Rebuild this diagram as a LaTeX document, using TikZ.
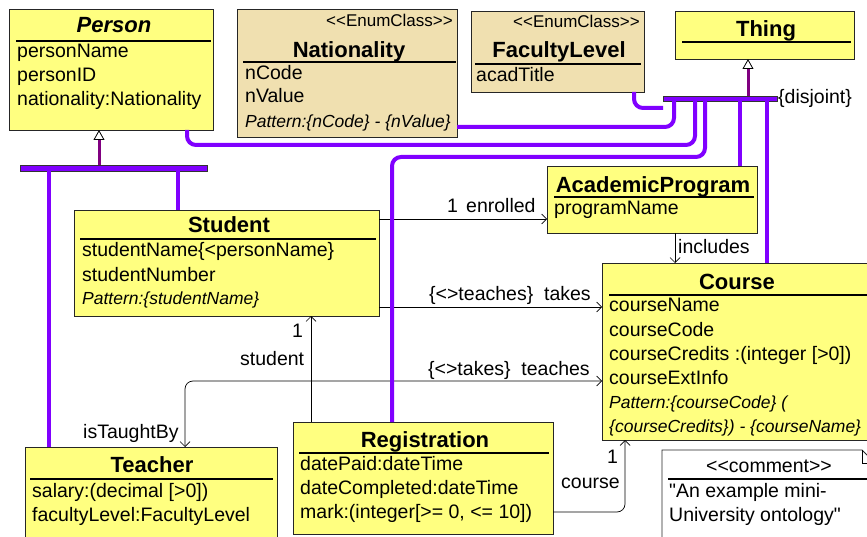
\documentclass[tikz,border=0pt]{standalone}
\usepackage{fontspec}
\setmainfont{Liberation Sans}[Ligatures=TeXOff]
\usetikzlibrary{arrows.meta}
\definecolor{classyellow}{RGB}{255,255,128}
\definecolor{enumtan}{RGB}{240,224,176}
\definecolor{genviolet}{RGB}{128,0,255}
\definecolor{genplum}{RGB}{128,0,128}
\begin{document}
\begin{tikzpicture}
[x=1pt,y=-1pt,
 classbox/.style={draw=black!85,line width=0.8pt,fill=classyellow,anchor=north west,inner sep=0pt,outer sep=0pt},
 enumbox/.style={classbox,fill=enumtan},
 clstitle/.style={font=\fontsize{22}{24}\selectfont\bfseries,anchor=base,inner sep=0pt},
 clsattr/.style={font=\fontsize{19.5}{24}\selectfont,anchor=base west,inner sep=0pt},
 clspattern/.style={font=\fontsize{17.5}{24}\selectfont\itshape,anchor=base west,inner sep=0pt},
 stereotype/.style={font=\fontsize{17}{18}\selectfont,anchor=base east,inner sep=0pt},
 rolelabel/.style={clsattr},
 clssep/.style={line width=1.1pt},
 assoc/.style={line width=0.7pt,rounded corners=8pt},
 navarrow/.style={-{Straight Barb[length=5pt,width=10pt]}},
 genline/.style={genviolet,line width=4pt,rounded corners=9pt},
 genbar/.style={fill=genviolet,draw=black!80,line width=0.8pt,inner sep=0pt,outer sep=0pt,anchor=north west},
 isa/.style={genplum,line width=3pt,-{Triangle[length=10pt,width=11pt,color=black,fill=white,line width=0.8pt]}}]

  \useasboundingbox (0,0) rectangle (867,537);

  \node[classbox,minimum width=204pt,minimum height=121pt] (person) at (9,9) {};
  \node[enumbox,minimum width=220pt,minimum height=128pt] (nationality) at (237,9) {};
  \node[enumbox,minimum width=173pt,minimum height=81pt] (faculty) at (471,11) {};
  \node[classbox,minimum width=179pt,minimum height=48pt] (thing) at (675,11) {};
  \node[classbox,minimum width=305pt,minimum height=106pt] (student) at (74,210) {};
  \node[classbox,minimum width=210pt,minimum height=67pt] (program) at (547,166) {};
  \node[classbox,minimum width=268pt,minimum height=177pt] (course) at (602,263) {};
  \node[classbox,minimum width=252pt,minimum height=98pt] (teacher) at (25,447) {};
  \node[classbox,minimum width=260pt,minimum height=112pt] (registration) at (293,422) {};

  \draw[fill=white,draw=black!85,line width=0.8pt] (662,450) -- (862,450) -- (875,463) -- (875,545) -- (662,545) -- cycle;
  \draw[line width=0.8pt] (862,450) -- (862,463) -- (875,463);

  \foreach \xa/\xb/\y in {16/211/41, 243/456/62, 475/641/64, 682/851/42, 80/376/239,
                          554/754/197, 609/867/295, 30/273/479, 299/549/453, 668/867/479}
  {
    \draw[clssep] (\xa,\y) -- (\xb,\y);
  }

  \node[clstitle,font=\fontsize{22}{24}\selectfont\bfseries\itshape] (persontitle) at (114,33) {Person};
  \node[stereotype] (nationalitystereo) at (453,27) {<<EnumClass>>};
  \node[clstitle] (nationalitytitle) at (349,58) {Nationality};
  \node[stereotype] (facultystereo) at (640,28) {<<EnumClass>>};
  \node[clstitle] (facultytitle) at (559,58) {FacultyLevel};
  \node[clstitle] (thingtitle) at (766,37) {Thing};
  \node[clstitle] (studenttitle) at (229,233) {Student};
  \node[clstitle] (programtitle) at (653,193) {AcademicProgram};
  \node[clstitle] (coursetitle) at (737,289) {Course};
  \node[clstitle] (teachertitle) at (152,472) {Teacher};
  \node[clstitle] (registrationtitle) at (425,447) {Registration};
  \node[clsattr,anchor=base] (commentstereo) at (769,472) {<<comment>>};

  \foreach \txt [count=\i] in {personName,personID,nationality:Nationality}
    \node[clsattr] (personattr\i) at (17,34+24*\i) {\txt};

  \foreach \txt [count=\i] in {nCode,nValue}
    \node[clsattr] (nationalityattr\i) at (245,57+23*\i) {\txt};
  \node[clspattern] (nationalitypattern) at (245,128) {Pattern:\{nCode\} - \{nValue\}};

  \node[clsattr] (facultyattr1) at (476,82) {acadTitle};

  \foreach \txt [count=\i] in {studentName\{<personName\},studentNumber}
    \node[clsattr] (studentattr\i) at (82,233+24*\i) {\txt};
  \node[clspattern] (studentpattern) at (82,304) {Pattern:\{studentName\}};

  \node[clsattr] (programattr1) at (554,215) {programName};

  \foreach \txt [count=\i] in {courseName,courseCode,courseCredits :(integer [>0]),courseExtInfo}
    \node[clsattr] (courseattr\i) at (609,288+24*\i) {\txt};
  \node[clspattern] (coursepattern1) at (609,408) {Pattern:\{courseCode\} (};
  \node[clspattern] (coursepattern2) at (609,432) {\{courseCredits\}) - \{courseName\}};

  \foreach \txt [count=\i] in {salary:(decimal [>0]),facultyLevel:FacultyLevel}
    \node[clsattr] (teacherattr\i) at (32,473+24*\i) {\txt};

  \foreach \txt [count=\i] in {datePaid:dateTime,dateCompleted:dateTime,{mark:(integer[>= 0, <= 10])}}
    \node[clsattr] (registrationattr\i) at (300,446+24*\i) {\txt};

  \foreach \txt [count=\i] in {"An example mini-,University ontology"}
    \node[clsattr] (commentline\i) at (669,473+24*\i) {\txt};

  \draw[assoc,navarrow] ([yshift=-9pt]student.north east) -- ([yshift=-53pt]program.north west);
  \draw[assoc,navarrow] ([xshift=128pt]program.south west) -- ([xshift=73pt]course.north west);
  \draw[assoc,navarrow] ([yshift=9pt]student.south east) -- ([yshift=-44pt]course.north west);
  \draw[assoc,{Straight Barb[length=5pt,width=10pt]}-{Straight Barb[length=5pt,width=10pt]}]
    ([yshift=-118pt]course.north west) -| ([xshift=160pt]teacher.north west);
  \draw[assoc,navarrow] ([xshift=18pt]registration.north west) -- ([xshift=237pt]student.south west);
  \draw[assoc,navarrow] ([yshift=22pt]registration.south east) -| ([xshift=23pt]course.south west);

  \node[rolelabel] (enrolledmult) at (447,213) {1};
  \node[rolelabel] (enrolled) at (466,213) {enrolled};
  \node[rolelabel] (includes) at (678,254) {includes};
  \node[rolelabel] (takes) at (429,300) {\{<>teaches\}\ \ takes};
  \node[rolelabel] (teaches) at (428,375) {\{<>takes\}\ \ teaches};
  \node[rolelabel] (taughtby) at (83,438) {isTaughtBy};
  \node[rolelabel] (studentmult) at (292,337) {1};
  \node[rolelabel] (studentrole) at (240,365) {student};
  \node[rolelabel] (coursemult) at (607,463) {1};
  \node[rolelabel] (courserole) at (561,488) {course};

  \node[genbar,minimum width=187pt,minimum height=6pt] (personbar) at (20,165) {};
  \node[genbar,minimum width=114pt,minimum height=5pt] (thingbar) at (663,96) {};
  \node[clsattr,anchor=base west] (disjoint) at (778,104) {\{disjoint\}};

  \draw[genline] ([xshift=163pt]faculty.south west) |- ([yshift=-7pt]thingbar.south west);
  \draw[genline] ([xshift=11pt]thingbar.south west) |- ([yshift=10pt]nationality.south east);
  \draw[genline] ([xshift=178pt]person.south west) -- ++(0,15) -| ([xshift=32pt]thingbar.south west);
  \draw[genline] ([xshift=42pt]thingbar.south west) -- ++(0,56) -| ([xshift=99pt]registration.north west);
  \draw[genline] ([xshift=77pt]thingbar.south west) -- ([xshift=193pt]program.north west);
  \draw[genline] ([xshift=104pt]thingbar.south west) -- ([xshift=165pt]course.north west);
  \draw[genline] ([xshift=29pt]personbar.south west) -- ([xshift=24pt]teacher.north west);
  \draw[genline] ([xshift=158pt]personbar.south west) -- ([xshift=104pt]student.north west);

  \draw[isa] ([xshift=79pt]personbar.north west) -- ([xshift=90pt]person.south west);
  \draw[isa] ([xshift=85pt]thingbar.north west) -- ([xshift=73pt]thing.south west);
\end{tikzpicture}
\end{document}
